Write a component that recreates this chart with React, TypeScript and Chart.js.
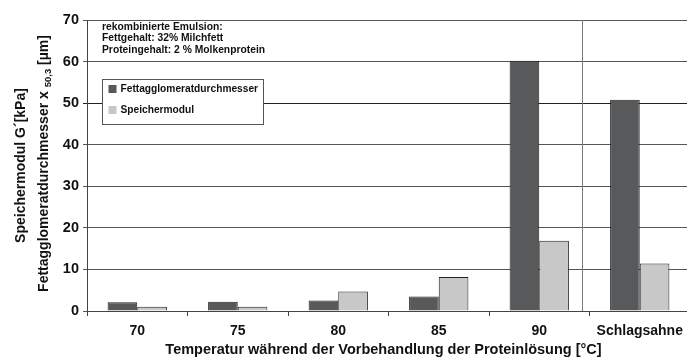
import React, { useEffect, useRef } from "react";
import { Chart, registerables } from "chart.js";

Chart.register(...registerables);

const categories = ["70", "75", "80", "85", "90", "Schlagsahne"];
const fettagglomerat = [2.1, 2.2, 2.5, 3.5, 60.2, 50.8];
const speichermodul = [1.0, 1.0, 4.7, 8.2, 16.9, 11.4];
const seriesLabels = ["Fettagglomeratdurchmesser", "Speichermodul"];
const noteLines = [
  "rekombinierte Emulsion:",
  "Fettgehalt: 32% Milchfett",
  "Proteingehalt: 2 % Molkenprotein",
];
const yTicks = { min: 0, max: 70, step: 10 };
const separatorAt = 4.43;

const FONT = "'Liberation Sans', Arial, sans-serif";
const DARK = "#58595b";
const LIGHT = "#c8c8c8";

const overlay = {
  id: "overlay",
  beforeDatasetsDraw(chart: any) {
    const { ctx, chartArea, scales } = chart;
    const x = Math.round(scales.x.getPixelForValue(separatorAt)) + 0.5;
    ctx.save();
    ctx.strokeStyle = "#7a7a7a";
    ctx.lineWidth = 1;
    ctx.beginPath();
    ctx.moveTo(x, chartArea.top);
    ctx.lineTo(x, chartArea.bottom);
    ctx.stroke();
    ctx.restore();
  },
  afterDraw(chart: any) {
    const { ctx, chartArea } = chart;
    ctx.save();
    // note text
    ctx.fillStyle = "#111";
    ctx.font = `bold 10.3px ${FONT}`;
    ctx.textBaseline = "middle";
    ctx.textAlign = "left";
    noteLines.forEach((t, i) => ctx.fillText(t, chartArea.left + 15, 27 + i * 11.5));

    // legend
    const lx = chartArea.left + 15.5;
    const ly = 79.5;
    ctx.fillStyle = "#fff";
    ctx.fillRect(lx, ly, 161, 45);
    ctx.strokeStyle = "#555";
    ctx.lineWidth = 1;
    ctx.strokeRect(lx, ly, 161, 45);
    const cols = [DARK, LIGHT];
    seriesLabels.forEach((t, i) => {
      const cy = 89 + i * 21;
      ctx.fillStyle = cols[i];
      ctx.fillRect(lx + 6, cy - 4, 8, 8);
      ctx.fillStyle = "#111";
      ctx.font = `bold 10.2px ${FONT}`;
      ctx.fillText(t, lx + 18, cy);
    });

    // x title
    ctx.font = `bold 14.5px ${FONT}`;
    ctx.textAlign = "center";
    ctx.fillStyle = "#111";
    ctx.fillText(
      "Temperatur während der Vorbehandlung der Proteinlösung [°C]",
      (chartArea.left + chartArea.right) / 2 - 5,
      350
    );

    // y titles
    const cy = (chartArea.top + chartArea.bottom) / 2;
    ctx.save();
    ctx.translate(21, cy);
    ctx.rotate(-Math.PI / 2);
    ctx.font = `bold 14px ${FONT}`;
    ctx.textAlign = "center";
    ctx.fillText("Speichermodul G´[kPa]", 0, 0);
    ctx.restore();

    ctx.save();
    ctx.translate(44, cy - 2);
    ctx.rotate(-Math.PI / 2);
    ctx.textAlign = "left";
    const p1 = "Fettagglomeratdurchmesser x ";
    const sub = "50,3";
    const p2 = " [µm]";
    ctx.font = `bold 14px ${FONT}`;
    const w1 = ctx.measureText(p1).width;
    const w3 = ctx.measureText(p2).width;
    ctx.font = `bold 9.5px ${FONT}`;
    const w2 = ctx.measureText(sub).width;
    let x0 = -(w1 + w2 + w3) / 2;
    ctx.font = `bold 14px ${FONT}`;
    ctx.fillText(p1, x0, 0);
    x0 += w1;
    ctx.font = `bold 9.5px ${FONT}`;
    ctx.fillText(sub, x0, 4);
    x0 += w2;
    ctx.font = `bold 14px ${FONT}`;
    ctx.fillText(p2, x0, 0);
    ctx.restore();

    ctx.restore();
  },
};

export default function App() {
  const ref = useRef<HTMLCanvasElement>(null);
  useEffect(() => {
    document.body.style.margin = "0";
    const chart = new Chart(ref.current as HTMLCanvasElement, {
      type: "bar",
      data: {
        labels: categories,
        datasets: [
          {
            label: seriesLabels[0],
            data: fettagglomerat,
            backgroundColor: DARK,
            borderColor: "#222",
            borderWidth: 1,
          },
          {
            label: seriesLabels[1],
            data: speichermodul,
            backgroundColor: LIGHT,
            borderColor: "#222",
            borderWidth: 1,
          },
        ],
      },
      options: {
        animation: false,
        responsive: false,
        devicePixelRatio: 1,
        layout: { padding: { top: 20, right: 5, left: 0, bottom: 0 } },
        datasets: { bar: { categoryPercentage: 0.59, barPercentage: 1 } },
        plugins: {
          legend: { display: false },
          tooltip: { enabled: false },
        },
        scales: {
          x: {
            afterFit: (s: any) => {
              s.height = 47;
            },
            grid: {
              drawOnChartArea: false,
              tickLength: 5,
              color: "#444",
              offset: true,
            },
            border: { color: "#444", width: 1 },
            ticks: {
              padding: 7,
              color: "#111",
              font: { family: FONT, size: 14, weight: "bold" },
            },
          },
          y: {
            min: yTicks.min,
            max: yTicks.max,
            afterFit: (s: any) => {
              s.width = 87;
            },
            grid: {
              color: (c: any) => (c.tick && c.tick.value === 50 ? "#222" : "#555"),
              tickLength: 4,
              lineWidth: 1,
            },
            border: { color: "#444", width: 1 },
            ticks: {
              stepSize: yTicks.step,
              padding: 4,
              color: "#111",
              font: { family: FONT, size: 14.5, weight: "bold" },
            },
          },
        },
      },
      plugins: [overlay],
    } as any);
    return () => chart.destroy();
  }, []);
  return (
    <div style={{ width: 687, height: 358, overflow: "hidden" }}>
      <canvas ref={ref} width={695} height={358} style={{ display: "block" }} />
    </div>
  );
}
